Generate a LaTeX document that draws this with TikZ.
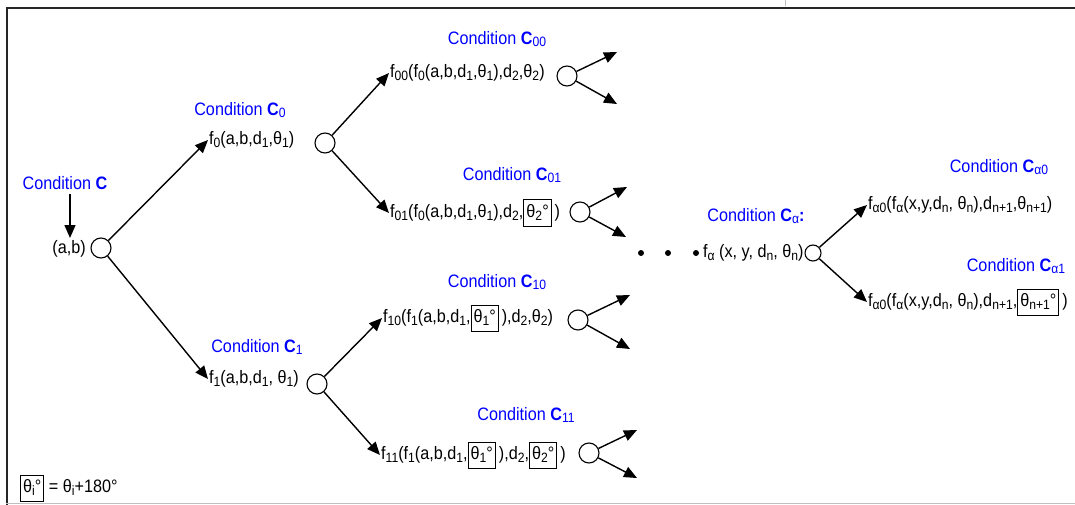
\documentclass[tikz,border=0pt]{standalone}
\usepackage{fontspec}
\setmainfont[FakeStretch=0.9]{Liberation Sans}
\usetikzlibrary{arrows.meta}
\newcommand\sbs[1]{\raisebox{-2.5pt}{\fontsize{13.5}{14}\selectfont #1}}
\newcommand\bx[1]{{\setlength\fboxsep{2pt}\setlength\fboxrule{1pt}\fbox{\rule[-6pt]{0pt}{21pt}#1}}}
\begin{document}
\begin{tikzpicture}[x=1pt,y=-1pt,
  every node/.style={font=\fontsize{18}{20}\selectfont},
  cond/.style={text=blue, inner sep=0pt},
  lab/.style={anchor=west, inner sep=0pt, xshift=1pt},
  circ/.style={circle, draw, line width=1.1pt, minimum size=20pt, inner sep=0pt},
  smallcirc/.style={circ, minimum size=16pt},
  arr/.style={-{Triangle[length=13pt,width=11pt]}, line width=1.4pt}]
\useasboundingbox (0,0) rectangle (1075,505);
% frame
\draw[line width=2.5pt, black!85] (7,505) -- (7,8) -- (1075,8);
\draw[line width=1pt, black!25] (6,503.5) -- (1075,503.5);
\draw[line width=1pt, black!25] (785,0) -- (785,6);
% root
\node[cond] (condC) at (65,183) {Condition \textbf{C}};
\coordinate (cArr) at (70,238);
\draw[arr] (condC.south -| cArr) ++(0,4) coordinate (cArrS) -- (cArr);
\node[anchor=east, inner sep=0pt] (ab) at (86,249) {(a,b)};
\node[circ] (root) at (101,248) {};
% level 1
\coordinate (t0) at (208,140);
\coordinate (t1) at (208,379);
\node[lab] (f0) at (t0) {f\sbs{0}(a,b,d\sbs{1},θ\sbs{1})};
\node[lab] (f1) at (t1) {f\sbs{1}(a,b,d\sbs{1}, θ\sbs{1})};
\node[cond] (condC0) at (240,110) {Condition \textbf{C}\sbs{0}};
\node[cond] (condC1) at (257,347) {Condition \textbf{C}\sbs{1}};
\draw[arr] (root) -- (t0);
\draw[arr] (root) -- (t1);
\node[circ] (c0) at (325,143) {};
\node[circ] (c1) at (317,384) {};
% level 2 top
\coordinate (t00) at (389,73);
\coordinate (t01) at (389,213);
\draw[arr] (c0) -- (t00);
\draw[arr] (c0) -- (t01);
\node[cond] (condC00) at (497,39) {Condition \textbf{C}\sbs{00}};
\node[lab] (f00) at (t00) {f\sbs{00}(f\sbs{0}(a,b,d\sbs{1},θ\sbs{1}),d\sbs{2},θ\sbs{2})};
\node[circ] (c00) at (567,76) {};
\coordinate (l00a) at (617,52);
\coordinate (l00b) at (617,104);
\draw[arr] (c00) -- (l00a);
\draw[arr] (c00) -- (l00b);
\node[cond] (condC01) at (512,175) {Condition \textbf{C}\sbs{01}};
\node[lab] (f01) at (t01) {f\sbs{01}(f\sbs{0}(a,b,d\sbs{1},θ\sbs{1}),d\sbs{2},\bx{θ\sbs{2}°}\,)};
\node[circ] (c01) at (580,212) {};
\coordinate (l01a) at (627,187);
\coordinate (l01b) at (626,237);
\draw[arr] (c01) -- (l01a);
\draw[arr] (c01) -- (l01b);
% level 2 bottom
\coordinate (t10) at (382,318);
\coordinate (t11) at (380,455);
\draw[arr] (c1) -- (t10);
\draw[arr] (c1) -- (t11);
\node[cond] (condC10) at (497,282) {Condition \textbf{C}\sbs{10}};
\node[lab] (f10) at (t10) {f\sbs{10}(f\sbs{1}(a,b,d\sbs{1},\bx{θ\sbs{1}°}\,),d\sbs{2},θ\sbs{2})};
\node[circ] (c10) at (578,320) {};
\coordinate (l10a) at (630,295);
\coordinate (l10b) at (630,349);
\draw[arr] (c10) -- (l10a);
\draw[arr] (c10) -- (l10b);
\node[cond] (condC11) at (526,415) {Condition \textbf{C}\sbs{11}};
\node[lab] (f11) at (t11) {f\sbs{11}(f\sbs{1}(a,b,d\sbs{1},\bx{θ\sbs{1}°}\,),d\sbs{2},\bx{θ\sbs{2}°}\,)};
\node[circ] (c11) at (589,453) {};
\coordinate (l11a) at (637,430);
\coordinate (l11b) at (637,478);
\draw[arr] (c11) -- (l11a);
\draw[arr] (c11) -- (l11b);
% dots
\foreach \x/\n in {641/d1,668/d2,696/d3} \fill (\x,253) circle (3pt) coordinate (\n);
% alpha level
\node[cond] (condCa) at (756,216) {Condition \textbf{C}\sbs{α}\textbf{:}};
\node[anchor=west, inner sep=0pt] (fa) at (703,253) {f\sbs{α} (x, y, d\sbs{n}, θ\sbs{n})};
\node[smallcirc] (ca) at (813,253) {};
\coordinate (ta0) at (867,205);
\coordinate (ta1) at (867,302);
\draw[arr] (ca) -- (ta0);
\draw[arr] (ca) -- (ta1);
\node[cond] (condCa0) at (999,167) {Condition \textbf{C}\sbs{α0}};
\node[cond] (condCa1) at (1016,266) {Condition \textbf{C}\sbs{α1}};
\node[lab] (fa0) at (ta0) {f\sbs{α0}(f\sbs{α}(x,y,d\sbs{n}, θ\sbs{n}),d\sbs{n+1},θ\sbs{n+1})};
\node[lab] (fa1) at (ta1) {f\sbs{α0}(f\sbs{α}(x,y,d\sbs{n}, θ\sbs{n}),d\sbs{n+1},\bx{θ\sbs{n+1}°}\,)};
% legend
\node[anchor=west, inner sep=0pt] (legend) at (20,488) {\bx{θ\sbs{i}°} = θ\sbs{i}+180°};
\end{tikzpicture}
\end{document}
